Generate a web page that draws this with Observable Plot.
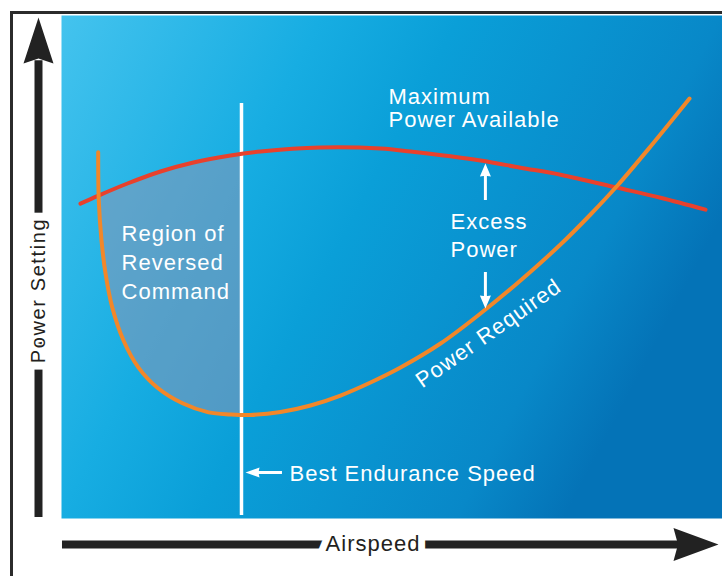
<!DOCTYPE html>
<html><head><meta charset="utf-8">
<script src="https://cdn.jsdelivr.net/npm/d3@7"></script>
<script src="https://cdn.jsdelivr.net/npm/@observablehq/plot@0.6"></script>
<style>
html,body{margin:0;padding:0;background:#fff;overflow:hidden;}
#wrap{position:relative;width:722px;height:576px;}
#wrap svg{display:block;}
#wrap svg text{letter-spacing:1px;}
#frame{position:absolute;left:10px;top:11px;width:712px;height:565px;border-left:3px solid #2b2b2b;border-top:3px solid #2b2b2b;pointer-events:none;}
</style></head><body><div id="wrap"></div>
<script>
// Power Required curve (airspeed %, power %)
const reqAirspeed = [5.55, 5.64, 6.05, 6.66, 7.67, 9.38, 11.65, 14.52, 18.31, 22.24, 25.57, 28.59, 33.13, 37.67, 42.21, 46.75, 51.29, 57.34, 63.39, 69.44, 75.49, 80.03, 84.11, 89.11, 95.01];
const reqPower    = [72.8, 63.2, 55.3, 48.7, 42.0, 35.4, 30.0, 26.0, 22.9, 21.1, 20.7, 20.6, 21.17, 22.47, 24.45, 27.04, 30.02, 34.79, 40.76, 47.32, 54.47, 60.44, 66.2, 73.96, 83.5];
// Maximum Power Available curve
const availAirspeed = [2.87, 5.60, 9.98, 14.98, 19.97, 25.57, 30.11, 39.18, 48.26, 52.80, 63.39, 69.44, 75.49, 84.11, 90.62, 97.43];
const availPower    = [62.6, 64.2, 66.6, 68.99, 70.78, 72.17, 72.96, 73.76, 73.56, 72.96, 71.17, 69.74, 68.35, 65.76, 63.78, 61.41];
// Region of reversed command (between power required and power available)
const shadeAirspeed = [5.67, 6.05, 6.66, 7.67, 9.38, 11.65, 14.52, 18.31, 22.24, 25.57, 27.23];
const shadeLow      = [64.0, 55.3, 48.7, 42.0, 35.4, 30.0, 26.0, 22.9, 21.1, 20.7, 20.6];
const shadeHigh     = [64.2, 64.4, 64.8, 65.2, 66.2, 67.4, 68.9, 70.5, 71.6, 72.17, 72.45];
const bestEnduranceSpeed = 27.23;
const labels = {
  region: "Region of\nReversed\nCommand",
  maxPower: "Maximum\nPower Available",
  excess: "Excess\nPower",
  required: "Power Required",
  best: "Best Endurance Speed",
  xTitle: "Airspeed",
  yTitle: "Power Setting"
};

const reqTable = reqAirspeed.map((x, i) => ({x, y: reqPower[i]}));
const availTable = availAirspeed.map((x, i) => ({x, y: availPower[i]}));
const shadeTable = shadeAirspeed.map((x, i) => ({x, lo: shadeLow[i], hi: shadeHigh[i]}));

function arrowHead(dir, w, notch) {
  const [dx, dy] = {up: [0, -1], down: [0, 1], left: [-1, 0], right: [1, 0]}[dir];
  const px = -dy, py = dx;
  return {draw(ctx, size) {
    const r = Math.sqrt(size / Math.PI);
    ctx.moveTo(dx * r, dy * r);
    ctx.lineTo(-dx * r + px * w * r, -dy * r + py * w * r);
    ctx.lineTo(-dx * r * (1 - notch), -dy * r * (1 - notch));
    ctx.lineTo(-dx * r - px * w * r, -dy * r - py * w * r);
    ctx.closePath();
  }};
}

const defs = () => {
  const d = d3.create("svg:defs");
  const g = d.append("linearGradient").attr("id", "panelGrad")
    .attr("x1", 0).attr("y1", 0).attr("x2", 1).attr("y2", 0.4);
  [[0, "#44c3ee"], [0.34, "#17ade2"], [0.52, "#0a9fd8"], [0.86, "#0888c8"], [1, "#0473b7"]]
    .forEach(([o, c]) => g.append("stop").attr("offset", o).attr("stop-color", c));
  return d.node();
};

const font = "'Liberation Sans', Arial, Helvetica, sans-serif";
const white = {fill: "white", fontSize: 22, textAnchor: "start", lineAnchor: "middle"};

const plot = Plot.plot({
  width: 722, height: 576,
  marginLeft: 61, marginRight: 0, marginTop: 15, marginBottom: 58,
  x: {domain: [0, 100], axis: null},
  y: {domain: [0, 100], axis: null},
  style: {fontFamily: font, background: "transparent", overflow: "visible"},
  marks: [
    defs,
    Plot.frame({fill: "url(#panelGrad)", stroke: "none"}),
    Plot.areaY(shadeTable, {x: "x", y1: "lo", y2: "hi", curve: "catmull-rom", fill: "#8a96b4", fillOpacity: 0.55}),
    Plot.ruleX([bestEnduranceSpeed], {y1: 0.6, y2: 82.5, stroke: "white", strokeWidth: 3.5}),
    Plot.line(availTable, {x: "x", y: "y", curve: "catmull-rom", stroke: "#e8412c", strokeWidth: 4}),
    Plot.line(reqTable, {x: "x", y: "y", curve: "catmull-rom", stroke: "#f28729", strokeWidth: 4}),
    // annotations
    Plot.text([labels.region], {...white, x: 9.08, y: 51.3, text: d => d, lineHeight: 1.32}),
    Plot.text([labels.maxPower], {...white, x: 49.47, y: 81.6, text: d => d, lineHeight: 1.07}),
    Plot.text([labels.excess], {...white, x: 58.85, y: 56.46, text: d => d, lineHeight: 1.27}),
    Plot.text([labels.required], {...white, textAnchor: "middle", x: 64.6, y: 36.78, rotate: -35, text: d => d}),
    Plot.text([labels.best], {...white, x: 34.49, y: 8.81, text: d => d}),
    // excess power arrows
    Plot.ruleX([64.13], {y1: 69.3, y2: 63.22, stroke: "white", strokeWidth: 3}),
    Plot.dot([0], {x: 64.13, y: 69.28, r: 6.5, symbol: arrowHead("up", 0.85, 0.1), fill: "white", stroke: "none"}),
    Plot.ruleX([64.13], {y1: 48.91, y2: 43.1, stroke: "white", strokeWidth: 3}),
    Plot.dot([0], {x: 64.13, y: 43.04, r: 6.5, symbol: arrowHead("down", 0.85, 0.1), fill: "white", stroke: "none"}),
    // best endurance arrow
    Plot.ruleY([9.15], {x1: 28.9, x2: 33.43, stroke: "white", strokeWidth: 3}),
    Plot.dot([0], {x: 28.9, y: 9.15, r: 7, symbol: arrowHead("left", 0.7, 0.15), fill: "white", stroke: "none"}),
    // axis arrows
    Plot.ruleX([-3.48], {y1: 0.2, y2: 91, stroke: "#222", strokeWidth: 8}),
    Plot.dot([0], {x: -3.48, y: 95.03, r: 23, symbol: arrowHead("up", 0.652, 0.22), fill: "#222", stroke: "none"}),
    Plot.ruleY([-5.17], {x1: 0.15, x2: 93.5, stroke: "#222", strokeWidth: 8}),
    Plot.dot([0], {x: 95.99, y: -5.17, r: 22.5, symbol: arrowHead("right", 0.73, 0.2), fill: "#222", stroke: "none"}),
    Plot.text([labels.xTitle], {x: 47.13, y: -4.97, text: d => d, fontSize: 22, fill: "#231f20", stroke: "white", strokeWidth: 14, strokeLinejoin: "round", paintOrder: "stroke"}),
    Plot.text([labels.yTitle], {x: -3.48, y: 45.33, rotate: -90, text: d => d, fontSize: 20, fill: "#231f20", stroke: "white", strokeWidth: 16, strokeLinejoin: "round", paintOrder: "stroke"})
  ]
});
d3.select(plot).selectAll("text")
  .filter(function() { return this.textContent === labels.yTitle; })
  .style("letter-spacing", "1.6px");
const wrap = document.getElementById("wrap");
wrap.appendChild(plot);
const fr = document.createElement("div");
fr.id = "frame";
wrap.appendChild(fr);
</script></body></html>
